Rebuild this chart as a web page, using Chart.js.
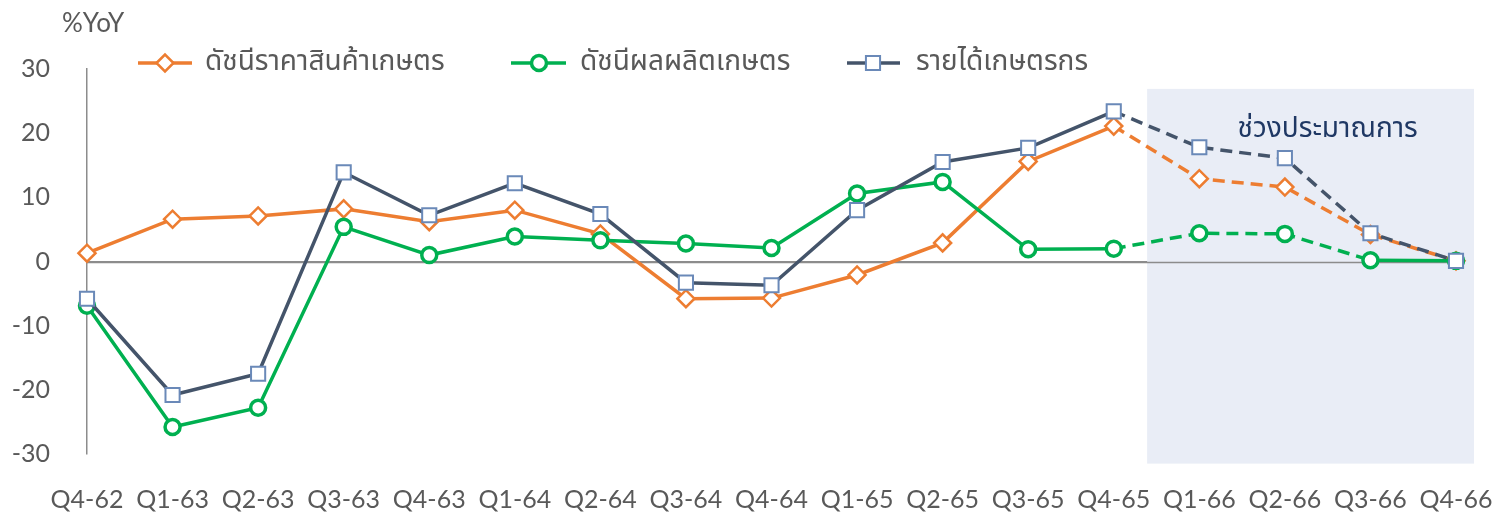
<!DOCTYPE html>
<html>
<head>
<meta charset="utf-8">
<script src="https://cdn.jsdelivr.net/npm/chart.js@4.4.1/dist/chart.umd.min.js"></script>
<style>
  html, body { margin: 0; padding: 0; background: #ffffff; }
  #wrap { width: 1494px; height: 520px; position: relative; }
</style>
</head>
<body>
<div id="wrap"><canvas id="c" width="1494" height="520"></canvas></div>
<script>
// ---- data ----
const categories = ['Q4-62','Q1-63','Q2-63','Q3-63','Q4-63','Q1-64','Q2-64','Q3-64','Q4-64','Q1-65','Q2-65','Q3-65','Q4-65','Q1-66','Q2-66','Q3-66','Q4-66'];
const priceIndex  = [1.3, 6.6, 7.1, 8.2, 6.2, 8.0, 4.3, -5.8, -5.7, -2.1, 2.9, 15.6, 21.1, 12.9, 11.6, 4.2, 0.1];
const outputIndex = [-6.9, -25.8, -22.8, 5.4, 1.0, 3.9, 3.3, 2.8, 2.1, 10.6, 12.4, 1.9, 2.0, 4.4, 4.3, 0.2, 0.1];
const farmIncome  = [-5.8, -20.8, -17.5, 13.9, 7.2, 12.2, 7.4, -3.3, -3.7, 8.0, 15.5, 17.7, 23.4, 17.8, 16.1, 4.4, 0.1];
const seriesNames = ['ดัชนีราคาสินค้าเกษตร', 'ดัชนีผลผลิตเกษตร', 'รายได้เกษตรกร'];
const yTicks = [-30, -20, -10, 0, 10, 20, 30];
const forecastLabel = 'ช่วงประมาณการ';
const unitLabel = '%YoY';
const forecastStartIndex = 12;      // dashed from Q4-65 onward
const forecastEndIndex = [16, 15, 16]; // green last segment is solid

const GRAY = '#595959';
const AXIS = '#8c8c8c';
const THAI = "'Noto Sans Thai','Noto Sans','Loma','Garuda','Lato',sans-serif";
const NUM = "'Lato','Open Sans','Noto Sans',sans-serif";

function dashSeg(dsIdx) {
  return ctx => (ctx.p0DataIndex >= forecastStartIndex && ctx.p0DataIndex < forecastEndIndex[dsIdx]) ? [12, 7] : undefined;
}

const styles = [
  { color: '#ED7D31', point: 'rectRot', radius: 8.5, pborder: '#ED7D31', pbw: 2.5 },
  { color: '#00B050', point: 'circle', radius: 7.5, pborder: '#00B050', pbw: 3.5 },
  { color: '#44546A', point: 'rect', radius: 10, pborder: '#6A89B8', pbw: 2 }
];
const seriesData = [priceIndex, outputIndex, farmIncome];

const datasets = seriesData.map((d, i) => ({
  label: seriesNames[i],
  data: d,
  borderColor: styles[i].color,
  borderWidth: 3.5,
  pointStyle: styles[i].point,
  pointRadius: styles[i].radius,
  pointHoverRadius: styles[i].radius,
  pointBackgroundColor: '#ffffff',
  pointBorderColor: styles[i].pborder,
  pointBorderWidth: styles[i].pbw,
  tension: 0,
  fill: false,
  clip: false,
  segment: { borderDash: dashSeg(i) },
  order: 3 - i
}));

const shadePlugin = {
  id: 'shade',
  beforeDatasetsDraw(chart) {
    const { ctx } = chart;
    const xs = chart.scales.x, ys = chart.scales.y;
    const step = xs.getPixelForValue(1) - xs.getPixelForValue(0);
    const x0 = xs.getPixelForValue(forecastStartIndex) + 0.39 * step;
    const x1 = xs.getPixelForValue(categories.length - 1) + 0.21 * step;
    const y0 = ys.getPixelForValue(26.9);
    const y1 = ys.getPixelForValue(-31.5);
    ctx.save();
    ctx.fillStyle = '#E9EDF6';
    ctx.fillRect(x0, y0, x1 - x0, y1 - y0);
    // redraw zero line over shading
    ctx.strokeStyle = AXIS;
    ctx.lineWidth = 1.5;
    ctx.beginPath();
    const yz = Math.round(ys.getPixelForValue(0)) + 0.5;
    ctx.moveTo(chart.chartArea.left, yz);
    ctx.lineTo(chart.chartArea.right, yz);
    ctx.stroke();
    ctx.fillStyle = '#1F3864';
    ctx.font = "28px " + THAI;
    ctx.textAlign = 'center';
    ctx.textBaseline = 'middle';
    ctx.fillText(forecastLabel, (xs.getPixelForValue(13) + xs.getPixelForValue(15)) / 2 + 0.5 * step, ys.getPixelForValue(20.3));
    ctx.restore();
  },
  afterDraw(chart) {
    const { ctx } = chart;
    ctx.save();
    // unit label
    ctx.fillStyle = GRAY;
    ctx.font = "26px " + NUM;
    ctx.textAlign = 'left';
    ctx.textBaseline = 'middle';
    ctx.fillText(unitLabel, 62, 24);
    // legend
    const items = [
      { x0: 138, x1: 192, mx: 165, tx: 205 },
      { x0: 511, x1: 566, mx: 539, tx: 580 },
      { x0: 847, x1: 900, mx: 873, tx: 916 }
    ];
    const ly = 63;
    items.forEach((it, i) => {
      const s = styles[i];
      ctx.strokeStyle = s.color;
      ctx.lineWidth = 3.5;
      ctx.setLineDash([]);
      ctx.beginPath();
      ctx.moveTo(it.x0, ly);
      ctx.lineTo(it.x1, ly);
      ctx.stroke();
      ctx.fillStyle = '#ffffff';
      ctx.strokeStyle = s.pborder;
      ctx.lineWidth = s.pbw;
      Chart.helpers.drawPoint(ctx, { pointStyle: s.point, radius: s.radius, borderWidth: s.pbw, rotation: 0 }, it.mx, ly);
      ctx.fillStyle = GRAY;
      ctx.font = "28px " + THAI;
      ctx.textAlign = 'left';
      ctx.textBaseline = 'middle';
      ctx.fillText(seriesNames[i], it.tx, ly + 1);
    });
    ctx.restore();
  }
};

new Chart(document.getElementById('c'), {
  type: 'line',
  data: { labels: categories, datasets },
  options: {
    responsive: false,
    animation: false,
    devicePixelRatio: 1,
    layout: { padding: { top: 69, right: 38, bottom: 0, left: 0 } },
    plugins: { legend: { display: false }, tooltip: { enabled: false } },
    scales: {
      x: {
        type: 'category',
        offset: false,
        grid: { display: false, drawTicks: false },
        border: { display: false },
        ticks: { color: GRAY, font: { family: NUM, size: 25 }, padding: 31, autoSkip: false, maxRotation: 0, minRotation: 0 },
        afterFit(s) { s.height = 66; s.paddingRight = 38; s.paddingLeft = 0; }
      },
      y: {
        min: -30, max: 30,
        afterBuildTicks(s) { s.ticks = yTicks.map(v => ({ value: v })); },
        grid: {
          drawTicks: false,
          color: c => (c.tick && c.tick.value === 0) ? AXIS : 'rgba(0,0,0,0)',
          lineWidth: 1.5
        },
        border: { display: true, color: AXIS, width: 1.5 },
        ticks: { color: GRAY, font: { family: NUM, size: 25 }, padding: 37 },
        afterFit(s) { s.width = 87; }
      }
    }
  },
  plugins: [shadePlugin]
});
</script>
</body>
</html>
